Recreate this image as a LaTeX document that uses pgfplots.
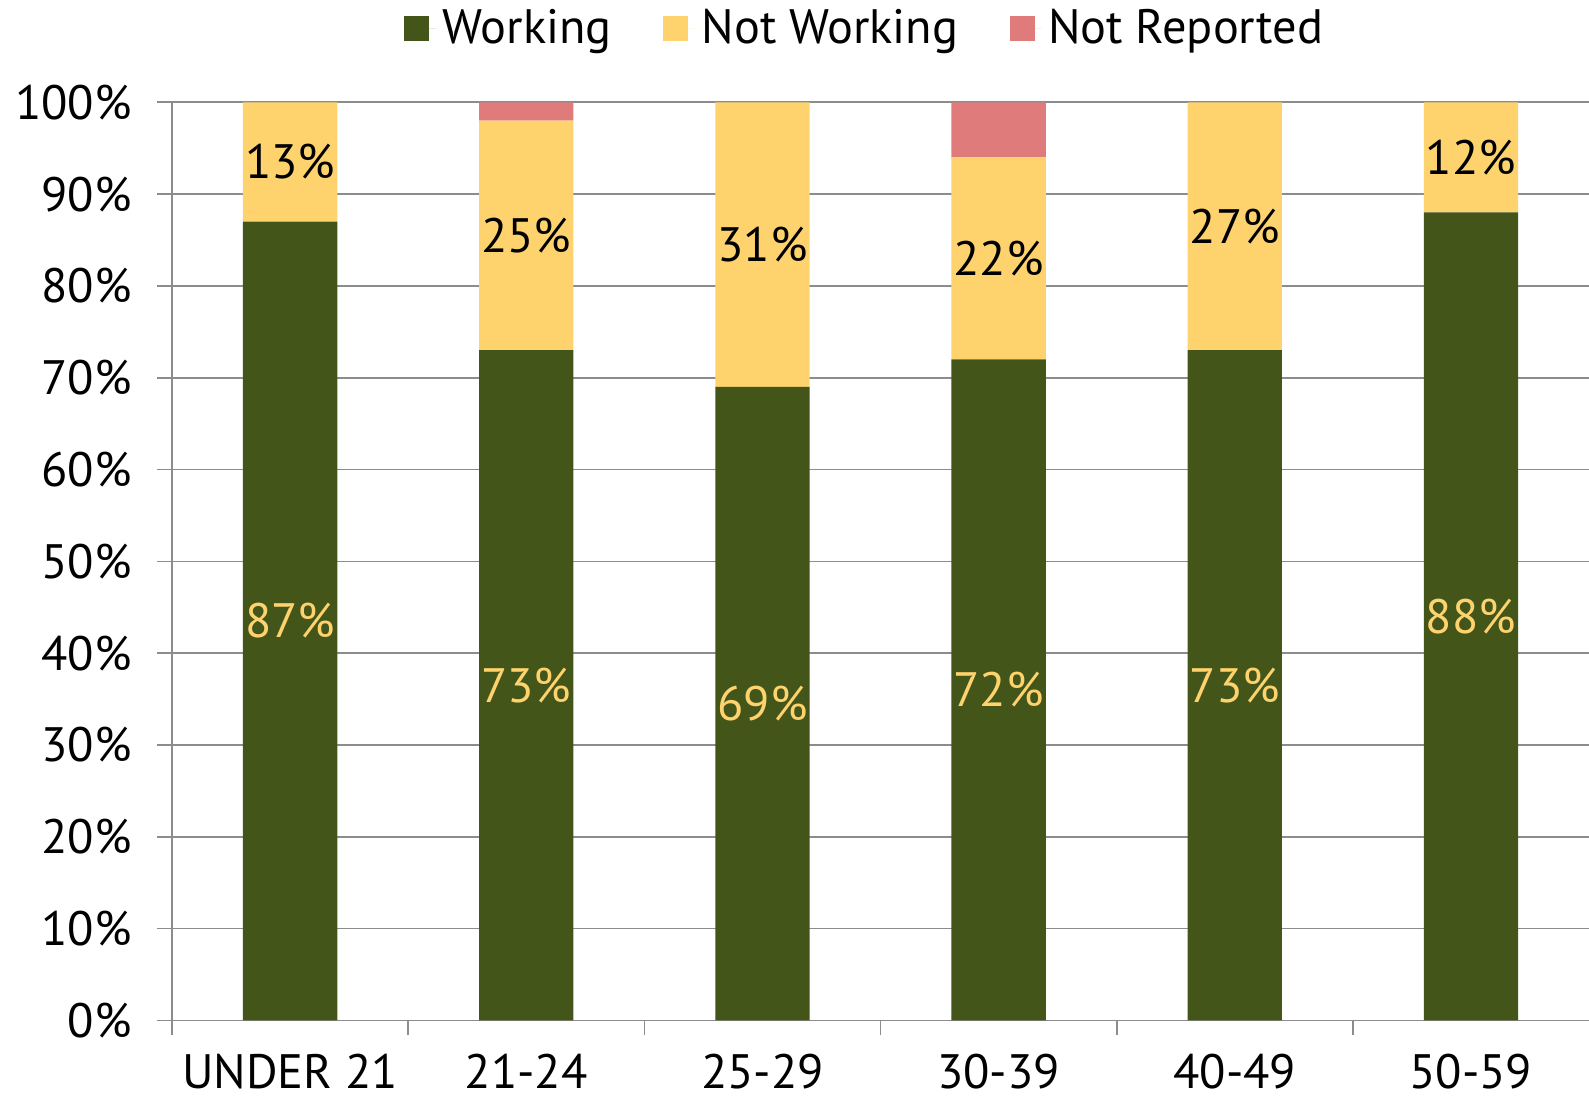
\documentclass[border=0pt]{standalone}
\usepackage{fontspec}
\setmainfont{PT Sans}
\usepackage{pgfplots}
\pgfplotsset{compat=1.18}
\definecolor{cgreen}{HTML}{435519}
\definecolor{cyellow}{HTML}{FED36E}
\definecolor{cpink}{HTML}{E07B7B}
\definecolor{cgrid}{HTML}{8C8C8C}
\pgfplotsset{
  sq/.style={legend image code/.code={\fill[##1] (0pt,-3.75pt) rectangle (7.5pt,3.75pt); \path (0pt,0pt) -- (9.5pt,0pt);}},
  common/.style={width=425.1pt, height=275.4pt, scale only axis,
    xmin=-0.5, xmax=5.5, ymin=0, ymax=100},
}
\begin{document}
\begin{tikzpicture}[font=\fontsize{14.5pt}{16pt}\selectfont]
\begin{axis}[common,
  ybar stacked, bar width=28.3pt,
  axis x line*=bottom, axis y line*=left,
  axis line style={cgrid, line width=0.5pt, -},
  ymajorgrids, grid style={cgrid, line width=0.5pt},
  ytick={0,10,...,100},
  yticklabel={\pgfmathprintnumber{\tick}\%},
  /pgf/number format/assume math mode=true,
  tick align=outside, major tick length=4.5pt,
  tick style={cgrid, line width=0.5pt},
  xtick={-0.5,0.5,...,4.5}, xticklabels={},
  extra x ticks={0,1,2,3,4,5},
  extra x tick labels={UNDER 21,21-24,25-29,30-39,40-49,50-59},
  extra x tick style={tick style={draw=none}},
  tick label style={font=\fontsize{14.5pt}{16pt}\selectfont, inner sep=0pt},
  yticklabel style={xshift=-7.4pt},
  xticklabel style={yshift=-5.5pt},
  legend style={at={(0.5,1)}, anchor=south, xshift=-4pt, yshift=14pt,
    draw=none, inner sep=0pt, font=\fontsize{14.5pt}{16pt}\selectfont,
    /tikz/every even column/.append style={column sep=13.5pt}},
  legend columns=3,
  legend cell align=left,
]
\addplot[sq, fill=cgreen, draw=none] coordinates {(0,87) (1,73) (2,69) (3,72) (4,73) (5,88)};
\addplot[sq, fill=cyellow, draw=none] coordinates {(0,13) (1,25) (2,31) (3,22) (4,27) (5,12)};
\addplot[sq, fill=cpink, draw=none] coordinates {(0,0) (1,2) (2,0) (3,6) (4,0) (5,0)};
\legend{Working, Not Working, Not Reported}
\end{axis}
\begin{axis}[common, hide axis, clip=false]
\addplot[draw=none, nodes near coords, point meta=explicit symbolic,
  nodes near coords style={anchor=center, text=cyellow, inner sep=0pt, font=\fontsize{14.5pt}{16pt}\selectfont}]
  coordinates {(0,43.5)[87\%] (1,36.5)[73\%] (2,34.5)[69\%] (3,36)[72\%] (4,36.5)[73\%] (5,44)[88\%]};
\addplot[draw=none, nodes near coords, point meta=explicit symbolic,
  nodes near coords style={anchor=center, text=black, inner sep=0pt, font=\fontsize{14.5pt}{16pt}\selectfont}]
  coordinates {(0,93.5)[13\%] (1,85.5)[25\%] (2,84.5)[31\%] (3,83)[22\%] (4,86.5)[27\%] (5,94)[12\%]};
\end{axis}
\pgfresetboundingbox
\path[use as bounding box] (-51.6pt,-23.55pt) rectangle (425.1pt,306.1pt);
\end{tikzpicture}
\end{document}
